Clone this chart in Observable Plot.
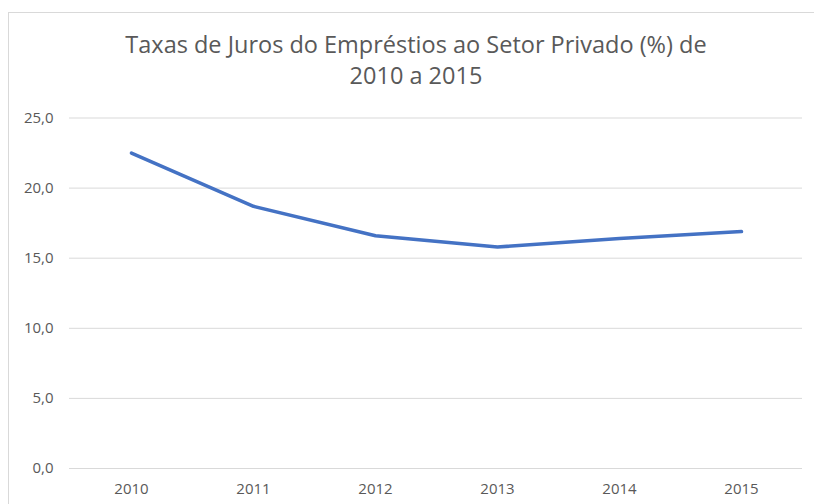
<!DOCTYPE html>
<html>
<head>
<meta charset="utf-8">
<script src="https://cdn.jsdelivr.net/npm/d3@7"></script>
<script src="https://cdn.jsdelivr.net/npm/@observablehq/plot@0.6"></script>
<style>
  html, body { margin: 0; padding: 0; background: #fff; }
  body { width: 814px; height: 504px; position: relative; overflow: hidden; font-family: "Open Sans", sans-serif; }
  #frame { position: absolute; left: 8px; top: 12px; width: 900px; height: 600px; border: 1px solid #d9d9d9; box-sizing: border-box; }
  #title { position: absolute; left: 0; top: 0; width: 832px; height: 100px; text-align: center; color: #595959; font-size: 23.5px; line-height: 31px; padding-top: 29px; box-sizing: border-box; white-space: nowrap; }
  #chart { position: absolute; left: 0; top: 100px; }
</style>
</head>
<body>
<div id="frame"></div>
<div id="title">Taxas de Juros do Empréstios ao Setor Privado (%) de<br>2010 a 2015</div>
<div id="chart"></div>
<script>
const years = ["2010", "2011", "2012", "2013", "2014", "2015"];
const rates = [22.5, 18.7, 16.6, 15.8, 16.4, 16.9];
const yTicks = [0, 5, 10, 15, 20, 25];

const data = years.map((y, i) => ({year: y, rate: rates[i]}));
const fmt = d => d.toFixed(1).replace(".", ",");

const chart = Plot.plot({
  width: 814,
  height: 404,
  marginTop: 17.5,
  marginBottom: 36,
  marginLeft: 69,
  marginRight: 12,
  style: {fontFamily: "Open Sans, sans-serif", fontSize: "15px", color: "#595959", background: "transparent"},
  x: {type: "point", domain: years, padding: 0.5, label: null},
  y: {domain: [0, 25], label: null},
  marks: [
    Plot.ruleY(yTicks, {stroke: "#d9d9d9", strokeWidth: 1}),
    Plot.axisY({ticks: yTicks, tickFormat: fmt, tickSize: 0, tickPadding: 16, label: null, fill: "#595959", fontSize: 15}),
    Plot.axisX({tickSize: 0, tickPadding: 15, label: null, fill: "#595959", fontSize: 15}),
    Plot.line(data, {x: "year", y: "rate", stroke: "#4472C4", strokeWidth: 3.5, strokeLinecap: "round", strokeLinejoin: "round"})
  ]
});
document.getElementById("chart").appendChild(chart);
</script>
</body>
</html>
